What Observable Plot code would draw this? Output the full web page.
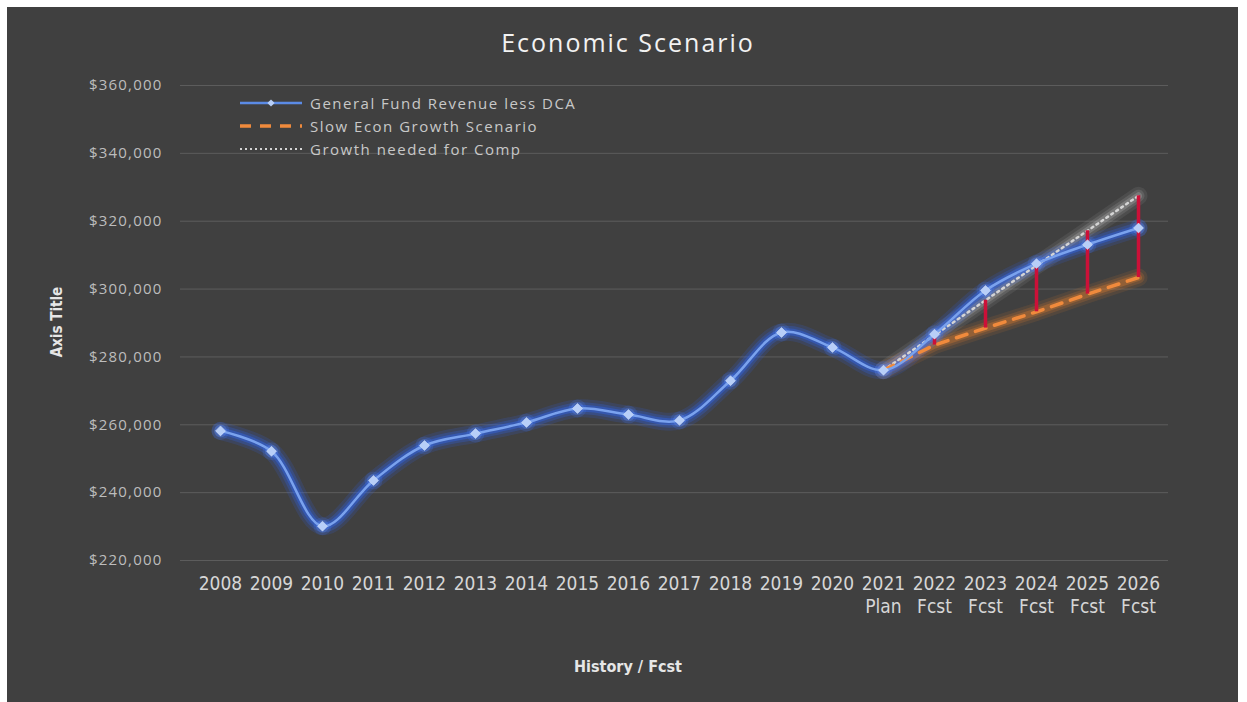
<!DOCTYPE html>
<html>
<head>
<meta charset="utf-8">
<script src="https://cdn.jsdelivr.net/npm/d3@7"></script>
<script src="https://cdn.jsdelivr.net/npm/@observablehq/plot@0.6"></script>
<style>
  body { margin: 0; background: #ffffff; }
  #wrap { position: relative; width: 1247px; height: 702px; overflow: hidden; }
  #panel { position: absolute; left: 7px; top: 7px; width: 1231px; height: 695px; background: #404040; }
  #chart { position: absolute; left: 0; top: 0; }
  #title { position: absolute; left: 0; width: 1256px; top: 25px; text-align: center;
           font-family: "Open Sans", sans-serif; font-size: 25px; color: #f2f2f2; letter-spacing: 2px; }
  #legend { position: absolute; left: 238px; top: 91px; font-family: "Open Sans", sans-serif;
            font-size: 15px; color: #c8c8c8; letter-spacing: 1.5px; }
  .row { height: 23px; display: flex; align-items: center; }
  .row svg { width: 66px; height: 12px; margin-right: 6px; }
  #ytitle { position: absolute; left: 57px; top: 322px; transform: translate(-50%, -50%) rotate(-90deg);
            font-family: "Liberation Sans Narrow", "DejaVu Sans Condensed", sans-serif; font-weight: bold;
            font-size: 15px; color: #e6e6e6; white-space: nowrap; }
  #xtitle { position: absolute; left: 628px; top: 666px; transform: translate(-50%, -50%);
            font-family: "Liberation Sans Narrow", "DejaVu Sans Condensed", sans-serif; font-weight: bold;
            font-size: 16px; color: #e6e6e6; white-space: nowrap; }
</style>
</head>
<body>
<div id="wrap">
  <div id="panel"></div>
  <div id="chart"></div>
  <div id="title">Economic Scenario</div>
  <div id="legend"></div>
  <div id="ytitle">Axis Title</div>
  <div id="xtitle">History / Fcst</div>
</div>
<script>
// ---- data ----
const years = ["2008","2009","2010","2011","2012","2013","2014","2015","2016","2017","2018","2019","2020","2021","2022","2023","2024","2025","2026"];
const periodLabels = ["","","","","","","","","","","","","","Plan","Fcst","Fcst","Fcst","Fcst","Fcst"];
const revenue = [258200, 252200, 230100, 243600, 253900, 257400, 260700, 264800, 263000, 261300, 273000, 287200, 282800, 276100, 286700, 299600, 307500, 313100, 318000];
const forecastYears = ["2021","2022","2023","2024","2025","2026"];
const slowGrowth = [276100, 283500, 288500, 293300, 298500, 303400];
const neededGrowth = [276100, 286400, 296700, 307000, 317200, 327500];
const yTicks = [220000, 240000, 260000, 280000, 300000, 320000, 340000, 360000];
const seriesNames = ["General Fund Revenue less DCA", "Slow Econ Growth Scenario", "Growth needed for Comp"];

// ---- tables ----
const revData = years.map((y, i) => ({year: y, value: revenue[i]}));
const slowData = forecastYears.map((y, i) => ({year: y, value: slowGrowth[i]}));
const needData = forecastYears.map((y, i) => ({year: y, value: neededGrowth[i]}));
const stemData = forecastYears.map((y, i) => ({year: y, lo: slowGrowth[i], hi: neededGrowth[i]})).slice(1);
const subOf = new Map(years.map((y, i) => [y, periodLabels[i]]));

const blue = "#5b8be6", orange = "#f08a3c", grey = "#d4d4d4", red = "#cc1038";

// stacked translucent strokes give a soft halo round each series
const halo = (data, color, opts = {}) => [18, 12, 7].map((w, k) =>
  Plot.line(data, {x: "year", y: "value", stroke: color, strokeWidth: w, strokeOpacity: [0.10, 0.16, 0.25][k] * (opts.k ?? 1), curve: opts.curve}));

const chart = Plot.plot({
  width: 1247, height: 702,
  marginLeft: 180, marginRight: 79, marginTop: 85, marginBottom: 142,
  style: {background: "transparent", color: "#d9d9d9"},
  x: {type: "point", domain: years, range: [215, 1142], padding: 0, label: null, axis: null},
  y: {domain: [220000, 360000], label: null, axis: null},
  marks: [
    Plot.gridY(yTicks, {stroke: "#5c5c5c", strokeOpacity: 1, strokeWidth: 1}),
    Plot.axisY(yTicks, {tickSize: 0, tickPadding: 18, label: null,
      tickFormat: d => "$" + d3.format(",")(d), fontSize: 15, fill: "#bdbdbd",
      fontFamily: "Open Sans, sans-serif"}),
    Plot.axisX({tickSize: 0, tickPadding: 12, label: null, fontSize: 19, lineHeight: 1.26,
      fill: "#d6d6d6", fontFamily: "Liberation Sans Narrow, DejaVu Sans Condensed, sans-serif",
      tickFormat: d => subOf.get(d) ? d + "\n" + subOf.get(d) : d}),
    // halos
    ...halo(needData, "#e0e0e0", {k: 0.8}),
    ...halo(slowData, "#ff8a2a", {k: 1}),
    ...halo(revData, "#2f66f0", {k: 1.6, curve: "catmull-rom"}),
    Plot.dot(revData, {x: "year", y: "value", r: 9, fill: "#4a80ff", fillOpacity: 0.18}),
    Plot.dot(revData, {x: "year", y: "value", r: 6.5, fill: "#6f9cff", fillOpacity: 0.25}),
    // series
    Plot.line(needData, {x: "year", y: "value", stroke: grey, strokeWidth: 2.5, strokeDasharray: "2,4", strokeLinecap: "round"}),
    Plot.line(slowData, {x: "year", y: "value", stroke: orange, strokeWidth: 3.5, strokeDasharray: "11,9"}),
    Plot.line(revData, {x: "year", y: "value", curve: "catmull-rom", stroke: "#7aa2ee", strokeWidth: 2.5}),
    Plot.ruleX(stemData, {x: "year", y1: "lo", y2: "hi", stroke: red, strokeWidth: 3.5}),
    Plot.dot(revData, {x: "year", y: "value", symbol: "diamond2", r: 4.5, fill: "#b8cff8", stroke: "#dde8fc", strokeWidth: 0.5})
  ]
});
document.getElementById("chart").appendChild(chart);

d3.select(chart).selectAll('g[aria-label="y-axis tick label"] text').style("letter-spacing", "1.2px");

// ---- legend ----
const legend = d3.select("#legend");
const samples = [
  s => { s.append("line").attr("x1", 2).attr("x2", 64).attr("y1", 6).attr("y2", 6).attr("stroke", blue).attr("stroke-width", 2.5);
         s.append("path").attr("d", d3.symbol(d3.symbolSquare, 26)()).attr("transform", "translate(33,6) rotate(45)").attr("fill", "#b8cff8"); },
  s => { s.append("line").attr("x1", 2).attr("x2", 64).attr("y1", 6).attr("y2", 6).attr("stroke", orange).attr("stroke-width", 3.5).attr("stroke-dasharray", "11,9"); },
  s => { s.append("line").attr("x1", 2).attr("x2", 64).attr("y1", 6).attr("y2", 6).attr("stroke", grey).attr("stroke-width", 2).attr("stroke-dasharray", "2,3"); }
];
seriesNames.forEach((name, i) => {
  const row = legend.append("div").attr("class", "row");
  const s = row.append("svg");
  samples[i](s);
  row.append("span").text(name);
});
</script>
</body>
</html>
